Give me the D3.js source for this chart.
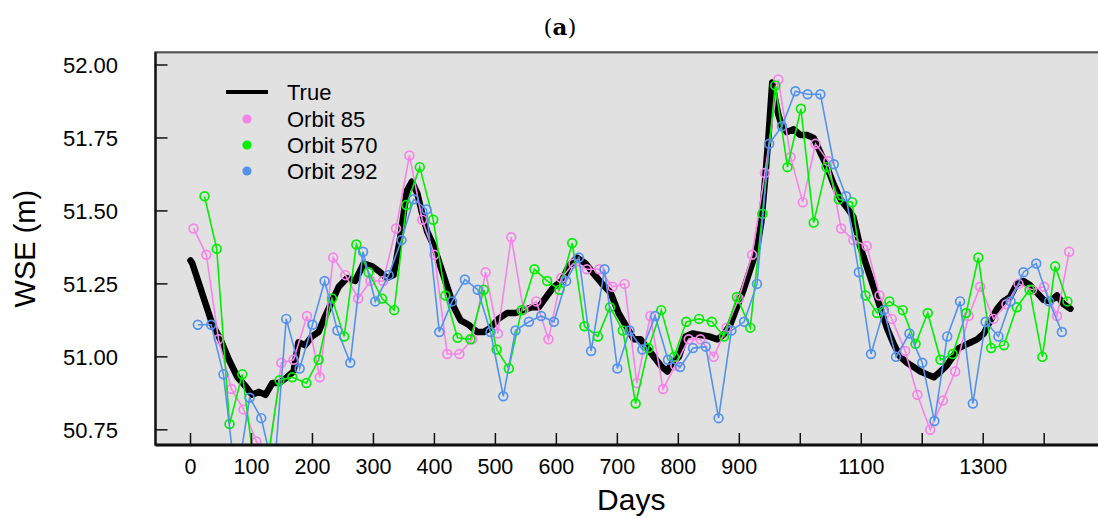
<!DOCTYPE html>
<html>
<head>
<meta charset="utf-8">
<script src="https://cdn.jsdelivr.net/npm/d3@7"></script>
<style>
  html, body { margin: 0; padding: 0; background: #ffffff; }
  svg { display: block; }
  text { font-family: "Liberation Sans", Arial, sans-serif; fill: #000; }
</style>
</head>
<body>
<svg id="chart" width="1098" height="518"></svg>
<script>
// ---------------- data ----------------
const trueDays = [0,3,14,25,36,49,63,77,90,101,112,123,134,145,158,169,177,188,199,210,221,232,243,257,270,284,298,311,322,333,344,355,363,372,380,388,399,410,421,432,443,456,470,481,492,505,519,533,546,560,571,585,596,609,620,634,648,661,675,689,702,716,727,738,749,760,771,782,790,801,812,823,836,850,864,874,885,896,907,918,929,936,942,948,954,959,964,970,978,989,1000,1011,1022,1033,1044,1055,1066,1077,1087,1098,1109,1120,1131,1142,1153,1164,1175,1186,1197,1208,1219,1230,1240,1250,1260,1270,1280,1290,1301,1312,1323,1333,1344,1355,1366,1377,1388,1399,1410,1421,1432,1443];
const trueValues = [51.33,51.32,51.25,51.18,51.11,51.06,50.99,50.93,50.90,50.87,50.88,50.87,50.91,50.91,50.93,50.95,51.05,51.04,51.07,51.085,51.14,51.19,51.24,51.27,51.26,51.32,51.31,51.29,51.27,51.28,51.41,51.57,51.60,51.56,51.49,51.43,51.38,51.31,51.24,51.17,51.125,51.11,51.085,51.085,51.10,51.13,51.15,51.15,51.16,51.17,51.17,51.21,51.24,51.26,51.31,51.34,51.32,51.285,51.25,51.22,51.15,51.10,51.06,51.06,51.03,51.00,50.97,50.95,50.98,51.00,51.07,51.08,51.075,51.07,51.06,51.075,51.11,51.17,51.23,51.30,51.37,51.46,51.60,51.76,51.94,51.88,51.83,51.79,51.77,51.78,51.76,51.76,51.75,51.70,51.65,51.59,51.54,51.51,51.48,51.38,51.31,51.24,51.17,51.10,51.045,51.00,50.98,50.965,50.95,50.94,50.93,50.95,50.97,51.00,51.03,51.04,51.05,51.06,51.08,51.125,51.165,51.19,51.205,51.25,51.26,51.245,51.22,51.195,51.19,51.21,51.18,51.165];

const orbit85Days = [5,26,46,67,87,108,128,149,169,191,212,234,254,275,295,316,337,359,380,400,421,441,462,484,504,526,546,567,587,608,628,650,670,692,712,732,754,775,795,817,836,858,879,899,921,942,964,984,1004,1025,1046,1067,1087,1109,1130,1150,1172,1192,1213,1234,1254,1276,1295,1317,1338,1358,1380,1400,1421,1441];
const orbit85Values = [51.44,51.35,51.06,50.89,50.82,50.71,50.65,50.98,50.99,51.14,50.93,51.34,51.28,51.20,51.26,51.26,51.44,51.69,51.47,51.35,51.01,51.01,51.06,51.29,51.08,51.41,51.16,51.19,51.06,51.27,51.32,51.30,51.30,51.24,51.25,50.91,51.14,50.89,50.97,51.06,51.06,51.00,51.10,51.20,51.35,51.63,51.95,51.685,51.53,51.73,51.67,51.44,51.40,51.38,51.21,51.13,51.02,50.87,50.75,50.85,50.95,51.14,51.24,51.13,51.18,51.25,51.23,51.24,51.14,51.36];

const orbit570Days = [23,43,64,85,105,126,146,167,190,210,232,252,272,292,314,334,354,376,398,418,438,459,481,502,522,543,564,585,605,626,646,668,688,709,730,751,772,793,813,834,855,875,896,918,938,959,979,1001,1022,1043,1063,1085,1107,1126,1146,1168,1189,1209,1230,1250,1272,1292,1313,1334,1355,1376,1397,1418,1438];
const orbit570Values = [51.55,51.37,50.77,50.94,50.62,50.64,50.92,50.93,50.91,50.99,51.20,51.07,51.385,51.29,51.20,51.16,51.52,51.65,51.47,51.21,51.065,51.06,51.23,51.025,50.96,51.16,51.30,51.26,51.23,51.39,51.105,51.07,51.17,51.09,50.84,51.03,51.16,51.00,51.12,51.13,51.12,51.07,51.205,51.10,51.49,51.93,51.65,51.85,51.46,51.65,51.54,51.53,51.21,51.15,51.19,51.16,51.045,51.15,50.99,51.01,51.15,51.34,51.03,51.04,51.17,51.23,51.00,51.31,51.19];

const orbit292Days = [12,34,54,75,97,116,137,157,179,200,220,241,262,283,303,325,346,366,387,408,429,450,471,492,513,533,555,575,596,616,637,657,679,700,720,741,762,783,803,824,845,866,887,908,929,949,970,992,1012,1033,1055,1075,1096,1116,1137,1157,1179,1200,1220,1241,1262,1283,1304,1325,1345,1366,1387,1408,1429];
const orbit292Values = [51.11,51.11,50.94,50.56,50.86,50.79,50.60,51.13,50.96,51.11,51.26,51.09,50.98,51.36,51.19,51.28,51.40,51.54,51.505,51.085,51.19,51.265,51.23,51.085,50.865,51.09,51.12,51.14,51.12,51.26,51.34,51.02,51.30,50.96,51.09,51.025,51.14,50.99,50.965,51.03,51.035,50.79,51.09,51.12,51.25,51.73,51.79,51.91,51.90,51.90,51.66,51.55,51.29,51.01,51.16,51.00,51.08,50.98,50.78,51.07,51.19,50.84,51.12,51.07,51.19,51.29,51.32,51.19,51.085];

const yTicks = [50.75, 51.00, 51.25, 51.50, 51.75, 52.00];
const xTicks = [0,100,200,300,400,500,600,700,800,900,1000,1100,1200,1300,1400];
const xTickLabels = ["0","100","200","300","400","500","600","700","800","900","","1100","","1300",""];

const seriesNames = ["True", "Orbit 85", "Orbit 570", "Orbit 292"];
const xTitle = "Days";
const yTitle = "WSE (m)";

// ---------------- layout ----------------
const colors = { o85: "#f684e8", o570: "#00ee00", o292: "#5393ee" };
const panel = { left: 155.5, right: 1107, top: 52.3, bottom: 445 };

const x = d3.scaleLinear().domain([-57.4, 1503]).range([panel.left, panel.right]);
const y = d3.scaleLinear().domain([50.70, 52.05]).range([444.4, 50.4]);

const svg = d3.select("#chart");

// panel background
svg.append("rect")
  .attr("x", panel.left).attr("y", panel.top)
  .attr("width", panel.right - panel.left).attr("height", panel.bottom - panel.top)
  .attr("fill", "#e1e1e1").attr("stroke", "#555").attr("stroke-width", 2.2);

svg.append("defs").append("clipPath").attr("id", "clip")
  .append("rect")
  .attr("x", panel.left).attr("y", panel.top)
  .attr("width", panel.right - panel.left).attr("height", panel.bottom - panel.top);

const plot = svg.append("g").attr("clip-path", "url(#clip)");

// True line
const trueData = trueDays.map((d, i) => [d, trueValues[i]]);
plot.append("path")
  .datum(trueData)
  .attr("fill", "none")
  .attr("stroke", "#000")
  .attr("stroke-width", 6.5)
  .attr("stroke-linejoin", "round")
  .attr("stroke-linecap", "round")
  .attr("d", d3.line().x(d => x(d[0])).y(d => y(d[1])));

function drawOrbit(days, values, color) {
  const data = days.map((d, i) => [d, values[i]]);
  plot.append("path")
    .datum(data)
    .attr("fill", "none")
    .attr("stroke", color)
    .attr("stroke-width", 1.6)
    .attr("d", d3.line().x(d => x(d[0])).y(d => y(d[1])));
  plot.selectAll(null)
    .data(data)
    .enter().append("circle")
    .attr("cx", d => x(d[0])).attr("cy", d => y(d[1]))
    .attr("r", 4.4)
    .attr("fill", "none")
    .attr("stroke", color)
    .attr("stroke-width", 1.7);
}
drawOrbit(orbit85Days, orbit85Values, colors.o85);
drawOrbit(orbit570Days, orbit570Values, colors.o570);
drawOrbit(orbit292Days, orbit292Values, colors.o292);

// axes frame (left and bottom darker)
svg.append("line").attr("x1", panel.left).attr("x2", panel.left)
  .attr("y1", panel.top).attr("y2", panel.bottom)
  .attr("stroke", "#111").attr("stroke-width", 2.2);
svg.append("line").attr("x1", panel.left).attr("x2", panel.right)
  .attr("y1", panel.bottom).attr("y2", panel.bottom)
  .attr("stroke", "#111").attr("stroke-width", 2.8);

// y axis ticks (inward) and labels
const yAxis = svg.append("g");
yAxis.selectAll("line").data(yTicks).enter().append("line")
  .attr("x1", panel.left).attr("x2", panel.left + 12)
  .attr("y1", d => y(d)).attr("y2", d => y(d))
  .attr("stroke", "#111").attr("stroke-width", 1.5);
yAxis.selectAll("text").data(yTicks).enter().append("text")
  .attr("x", 118).attr("y", d => y(d))
  .attr("dy", "0.36em")
  .attr("text-anchor", "end")
  .attr("font-size", 22)
  .attr("fill", "#222")
  .text(d => d3.format(".2f")(d));

// x axis ticks (inward) and labels
const xAxis = svg.append("g");
xAxis.selectAll("line").data(xTicks).enter().append("line")
  .attr("x1", d => x(d)).attr("x2", d => x(d))
  .attr("y1", panel.bottom).attr("y2", panel.bottom - 12)
  .attr("stroke", "#111").attr("stroke-width", 1.5);
xAxis.selectAll("text").data(xTicks).enter().append("text")
  .attr("x", d => x(d)).attr("y", 474)
  .attr("text-anchor", "middle")
  .attr("font-size", 21.5)
  .attr("fill", "#222")
  .text((d, i) => xTickLabels[i]);

// axis titles
svg.append("text")
  .attr("x", (panel.left + panel.right) / 2).attr("y", 510)
  .attr("text-anchor", "middle")
  .attr("font-size", 30)
  .text(xTitle);
svg.append("text")
  .attr("transform", `translate(35, ${(panel.top + panel.bottom) / 2}) rotate(-90)`)
  .attr("text-anchor", "middle")
  .attr("font-size", 29)
  .text(yTitle);

// title
svg.append("text")
  .attr("x", 560).attr("y", 35)
  .attr("text-anchor", "middle")
  .attr("font-size", 23)
  .style("font-family", "'DejaVu Serif', 'Liberation Serif', serif")
  .html('(<tspan font-weight="bold">a</tspan>)');

// legend
const legend = svg.append("g");
const legendY = [92, 119, 145, 171];
legend.append("line")
  .attr("x1", 226).attr("x2", 268).attr("y1", legendY[0]).attr("y2", legendY[0])
  .attr("stroke", "#000").attr("stroke-width", 4);
const dotColors = [colors.o85, colors.o570, colors.o292];
dotColors.forEach((c, i) => {
  legend.append("circle")
    .attr("cx", 247).attr("cy", legendY[i + 1]).attr("r", 4.6)
    .attr("fill", c);
});
seriesNames.forEach((n, i) => {
  legend.append("text")
    .attr("x", 287).attr("y", legendY[i])
    .attr("dy", "0.36em")
    .attr("font-size", 22)
    .attr("fill", "#111")
    .text(n);
});
</script>
</body>
</html>
